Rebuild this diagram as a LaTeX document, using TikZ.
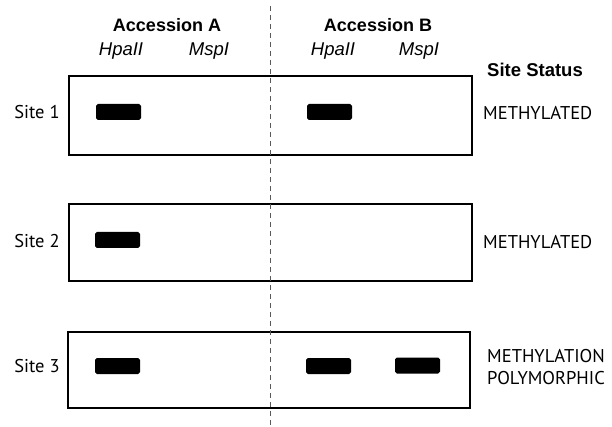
\documentclass[tikz,border=0pt]{standalone}
\usepackage{fontspec}
\setmainfont{Liberation Sans}
\newfontfamily\myr{PT Sans}
\begin{document}
\begin{tikzpicture}[x=1pt,y=-1pt,
  lanebox/.style={draw=black,line width=1.4pt,inner sep=0pt},
  band/.style={fill=black,rounded corners=1.8pt,minimum width=45pt,minimum height=16pt,inner sep=0pt},
  head/.style={font=\fontsize{18}{20}\selectfont\bfseries,inner sep=0pt},
  enz/.style={font=\fontsize{18.5}{20}\selectfont\itshape,inner sep=0pt},
  sitelab/.style={font=\myr\fontsize{18.5}{20}\selectfont,inner sep=0pt},
  status/.style={font=\myr\fontsize{18.5}{22}\selectfont,inner sep=0pt,align=left}]
\useasboundingbox (0,0) rectangle (612,427);
% headers
\node[head] (accA) at (167,25) {Accession A};
\node[head] (accB) at (378,25) {Accession B};
\node[enz] (hA) at (121,51) {HpaII};
\node[enz] (mA) at (209,51) {MspI};
\node[enz] (hB) at (333,51) {HpaII};
\node[enz] (mB) at (419,51) {MspI};
\node[head,font=\fontsize{18.5}{20}\selectfont\bfseries] (status) at (535,70) {Site Status};
% boxes
\draw[lanebox] (69,76) rectangle (472,155);
\node[inner sep=0pt,minimum width=403pt,minimum height=79pt] (box1) at (270.5,115.5) {};
\draw[lanebox] (69,204) rectangle (472,281);
\node[inner sep=0pt,minimum width=403pt,minimum height=77pt] (box2) at (270.5,242.5) {};
\draw[lanebox] (68,332) rectangle (470,408);
\node[inner sep=0pt,minimum width=402pt,minimum height=76pt] (box3) at (269,370) {};
% divider
\coordinate (dtop) at (270,6);
\coordinate (dbot) at (270,427);
\draw[gray!70!black,line width=0.8pt,dash pattern=on 5pt off 4pt] (dtop) -- (dbot);
% site labels
\node[sitelab] (s1) at (37,112) {Site 1};
\node[sitelab] (s2) at (37,241) {Site 2};
\node[sitelab] (s3) at (37,366) {Site 3};
% bands
\node[band] (b1a) at (118.5,112) {};
\node[band] (b1b) at (329.5,112) {};
\node[band] (b2a) at (117.5,240) {};
\node[band] (b3a) at (117.5,366) {};
\node[band] (b3b) at (328.5,366) {};
\node[band] (b3c) at (417.5,365.5) {};
% status
\node[status,anchor=west] (st1) at (483,113) {METHYLATED};
\node[status,anchor=west] (st2) at (483,242) {METHYLATED};
\node[status,anchor=west] (st3) at (487,367) {METHYLATION\\POLYMORPHIC};
\end{tikzpicture}
\end{document}
